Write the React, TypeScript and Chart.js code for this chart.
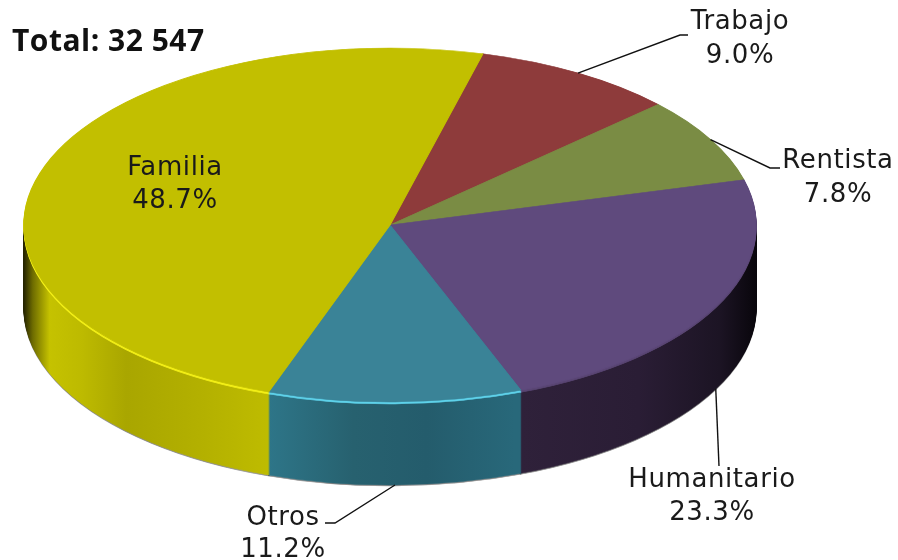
import { useEffect, useRef } from "react";
import { Chart, registerables } from "chart.js";

Chart.register(...registerables);

// ---- data ----
const categories = ["Trabajo", "Rentista", "Humanitario", "Otros", "Familia"];
const shares = [9.0, 7.8, 23.3, 11.2, 48.7];
const percentLabels = ["9.0%", "7.8%", "23.3%", "11.2%", "48.7%"];
const totalLabel = "Total: 32 547";
const startRotation = 14.7; // degrees clockwise from 12 o'clock

// ---- styles ----
const topColors = ["#8e3b3b", "#7a8c44", "#5f4a7d", "#3a8397", "#c2bf00"];
const rimColors = ["#a04848", "#8ea050", "#5a4674", "#5fd2ea", "#f4f018"];
const sideStops: [number, string][][] = [
  [[0, "#5a2424"], [1, "#3a1414"]],
  [[0, "#56642e"], [1, "#3a441e"]],
  [[0, "#2f213a"], [0.68, "#2f213a"], [0.84, "#2a1d35"], [0.95, "#1c1424"], [1, "#09060c"]],
  [[0, "#2e7689"], [0.33, "#2e7689"], [0.45, "#27616f"], [0.55, "#245c6c"], [0.67, "#28687a"], [1, "#28687a"]],
  [[0, "#262500"], [0.012, "#6e6c00"], [0.035, "#c5c200"], [0.08, "#bdba00"], [0.14, "#a9a600"], [0.24, "#b3b000"], [0.33, "#bebb00"], [1, "#bebb00"]],
];
const PIE = { cx: 390, cy: 225, rx: 366, ry: 177, depth: 83 };

type Place = { leader: [number, number][]; text: [number, number]; lh: number };
const placements: Place[] = [
  { leader: [[680, 35], [688, 35]], text: [740, 29], lh: 34 },
  { leader: [[770, 168], [780, 168]], text: [838, 168], lh: 34 },
  { leader: [[719, 466]], text: [712, 487], lh: 33 },
  { leader: [[335, 523], [325, 523]], text: [283, 525], lh: 32 },
  { leader: [], text: [175, 175], lh: 33 },
];

const LABEL_FONT = '26px "DejaVu Sans", "Noto Sans", sans-serif';

const pie3d = {
  id: "pie3d",
  beforeDatasetsDraw(chart: any) {
    const ctx: CanvasRenderingContext2D = chart.ctx;
    const arcs = chart.getDatasetMeta(0).data as any[];
    if (!arcs.length) return false;
    const a0 = arcs[0];
    const r = a0.outerRadius, ox = a0.x, oy = a0.y;
    const sx = PIE.rx / r, sy = PIE.ry / r;
    const enter = (dy: number) => {
      ctx.save();
      ctx.translate(PIE.cx, PIE.cy + dy);
      ctx.scale(sx, sy);
      ctx.translate(-ox, -oy);
    };
    const gx = (X: number) => ox + (X - PIE.cx) / sx;
    const grads = sideStops.map((stops) => {
      const g = ctx.createLinearGradient(gx(PIE.cx - PIE.rx), 0, gx(PIE.cx + PIE.rx), 0);
      stops.forEach(([o, c]) => g.addColorStop(o, c));
      return g;
    });
    const drawWith = (arc: any, fill: any) => {
      const orig = arc.options;
      arc.options = { ...orig, backgroundColor: fill, borderColor: fill, borderWidth: 1 };
      arc.draw(ctx);
      arc.options = orig;
    };
    // soft outline at the bottom edge
    enter(PIE.depth + 1);
    arcs.forEach((arc) => drawWith(arc, "rgba(70,70,70,0.55)"));
    ctx.restore();
    for (let d = PIE.depth; d >= 1; d--) {
      enter(d);
      arcs.forEach((arc, i) => drawWith(arc, d <= 2 ? rimColors[i] : grads[i]));
      ctx.restore();
    }
    enter(0);
    arcs.forEach((arc) => arc.draw(ctx));
    ctx.restore();
    return false;
  },
  afterDraw(chart: any) {
    const ctx: CanvasRenderingContext2D = chart.ctx;
    const arcs = chart.getDatasetMeta(0).data as any[];
    ctx.save();
    ctx.fillStyle = "#111";
    ctx.font = 'bold 30px "Open Sans", "Noto Sans", sans-serif';
    (ctx as any).letterSpacing = "0.5px";
    ctx.textAlign = "left";
    ctx.textBaseline = "alphabetic";
    ctx.fillText(totalLabel, 12, 51);

    arcs.forEach((arc, i) => {
      const p = placements[i];
      if (p.leader.length) {
        const a = (arc.startAngle + arc.endAngle) / 2;
        const X = PIE.cx + PIE.rx * Math.cos(a);
        let Y = PIE.cy + PIE.ry * Math.sin(a);
        if (Math.sin(a) > 0.05) Y += PIE.depth;
        ctx.beginPath();
        ctx.moveTo(X, Y);
        p.leader.forEach(([x, y]) => ctx.lineTo(x, y));
        ctx.strokeStyle = "#111";
        ctx.lineWidth = 1.4;
        ctx.stroke();
      }
      ctx.font = LABEL_FONT;
      (ctx as any).letterSpacing = "0.6px";
      ctx.textAlign = "center";
      ctx.fillStyle = "#1a1a1a";
      ctx.fillText(categories[i], p.text[0], p.text[1]);
      ctx.fillText(percentLabels[i], p.text[0], p.text[1] + p.lh);
    });
    ctx.restore();
  },
};

export default function App() {
  const ref = useRef<HTMLCanvasElement | null>(null);
  useEffect(() => {
    if (!ref.current) return;
    const chart = new Chart(ref.current, {
      type: "pie",
      data: {
        labels: categories,
        datasets: [
          {
            data: shares,
            backgroundColor: topColors,
            borderColor: topColors,
            borderWidth: 1,
            clip: false as any,
          },
        ],
      },
      options: {
        responsive: false,
        animation: false,
        rotation: startRotation,
        events: [],
        layout: { padding: 0 },
        plugins: { legend: { display: false }, tooltip: { enabled: false } },
      },
      plugins: [pie3d as any],
    });
    return () => chart.destroy();
  }, []);
  return (
    <div style={{ position: "absolute", left: 0, top: 0, width: 898, height: 560, background: "#fff" }}>
      <canvas ref={ref} width={898} height={560} style={{ display: "block" }} />
    </div>
  );
}
